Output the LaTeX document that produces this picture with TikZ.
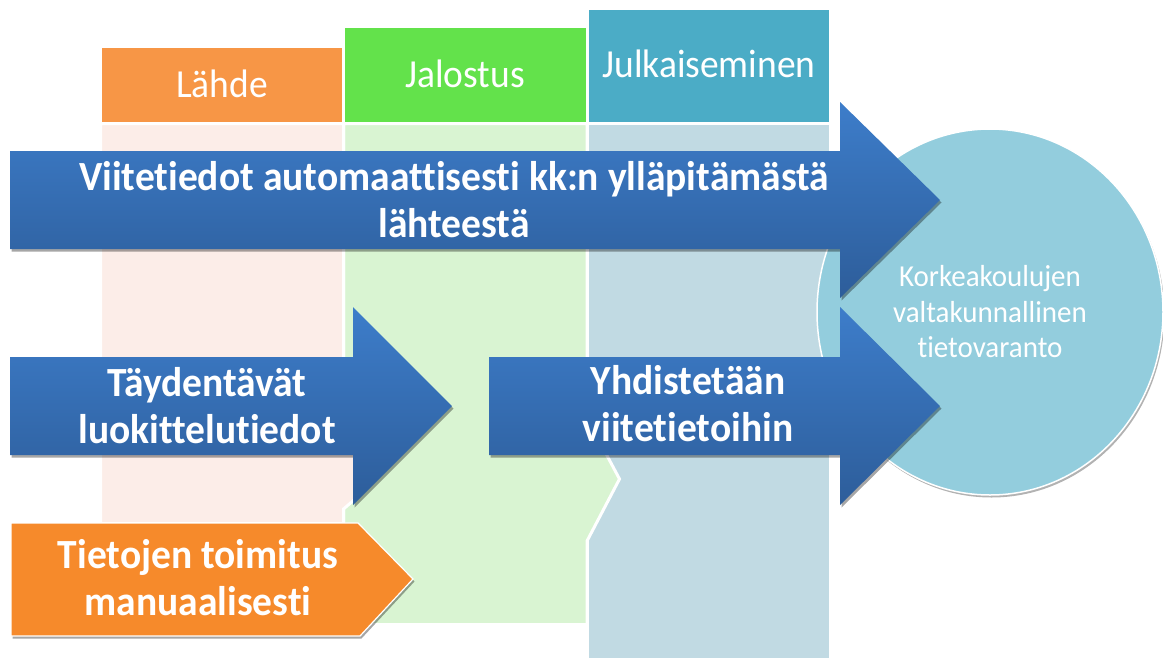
\documentclass[tikz,border=0pt]{standalone}
\usepackage{fontspec}
\setmainfont{Carlito}[Ligatures=NoCommon]
\usetikzlibrary{shadows}
\definecolor{hdrorange}{HTML}{F79646}
\definecolor{hdrgreen}{HTML}{63E24B}
\definecolor{hdrteal}{HTML}{4BACC6}
\definecolor{colpink}{HTML}{FCEDE8}
\definecolor{colgreen}{HTML}{D9F4D2}
\definecolor{colblue}{HTML}{C1DAE3}
\definecolor{circblue}{HTML}{93CDDD}
\definecolor{arrtop}{HTML}{3D7DCA}
\definecolor{arrbot}{HTML}{2D5D9A}
\definecolor{boxorange}{HTML}{F68A2B}
\tikzset{
  colbox/.style={draw=white, line width=3pt, line join=miter},
  hdrtext/.style={text=white, inner sep=0pt, yscale=1.06, transform shape, font=\fontsize{37.5}{45}\selectfont},
  arrowshape/.style={top color=arrtop, bottom color=arrbot, draw=none,
     drop shadow={shadow xshift=1.5pt, shadow yshift=-2.5pt, opacity=.35, fill=black}},
  arrtext/.style={text=white, inner sep=0pt, align=center, yscale=1.05, transform shape,
     font=\bfseries\fontsize{39.5}{44.8}\selectfont},
}
\begin{document}
\begin{tikzpicture}[x=1pt, y=-1pt]
\useasboundingbox (0,0) rectangle (1163,657);
% column bodies
\path[colbox, fill=colblue] (587,123.5) rectangle (830.5,672);
\path[colbox, fill=colgreen] (343.5,123.5) -- (587,123.5) -- (587,418) -- (619.5,479) -- (587,541) -- (587,624.5) -- (343.5,624.5) -- cycle;
\path[colbox, fill=colpink] (100.5,123.5) -- (343.5,123.5) -- (343.5,380) -- (380,440) -- (354,500) -- (343.5,509) -- (343.5,523.5) -- (100.5,523.5) -- cycle;
% headers
\path[colbox, fill=hdrorange] (100.5,46.5) rectangle (343.5,123.5);
\path[colbox, fill=hdrgreen] (343.5,26.5) rectangle (587,123.5);
\path[colbox, fill=hdrteal] (587,8.5) rectangle (830.5,123.5);
\node[hdrtext] (lahde) at (222,84) {Lähde};
\node[hdrtext] (jalostus) at (465,74) {Jalostus};
\node[hdrtext] (julk) at (709,64) {Julkaiseminen};
% circle
\path[fill=circblue, draw=white, line width=1.5pt,
  drop shadow={shadow xshift=1.5pt, shadow yshift=-2.5pt, opacity=.3, fill=black}]
  (990,312) ellipse [x radius=173, y radius=183];
\node[text=white, inner sep=0pt, align=center, yscale=1.05, transform shape,
  font=\fontsize{29}{33.8}\selectfont] (tv) at (990,312)
  {Korkeakoulujen\\valtakunnallinen\\tietovaranto};
% arrows
\path[arrowshape] (10,151) -- (840,151) -- (840,102) -- (940,200) -- (840,298) -- (840,249) -- (10,249) -- cycle;
\node[arrtext] (viite) at (454,200) {Viitetiedot automaattisesti kk:n ylläpitämästä\\lähteestä};
\path[arrowshape] (10,357) -- (353,357) -- (353,307) -- (452,406) -- (353,505) -- (353,455) -- (10,455) -- cycle;
\node[arrtext] (tayd) at (207,406) {Täydentävät\\luokittelutiedot};
\path[arrowshape] (489,357) -- (840,357) -- (840,307) -- (940,406) -- (840,505) -- (840,455) -- (489,455) -- cycle;
\node[arrtext] (yhd) at (688,404) {Yhdistetään\\viitetietoihin};
% orange pentagon
\path[fill=boxorange, draw=white, line width=1.2pt,
  drop shadow={shadow xshift=1.5pt, shadow yshift=-2.5pt, opacity=.35, fill=black}]
  (11,523) -- (358,523) -- (413,579) -- (360,636) -- (11,636) -- cycle;
\node[arrtext] (toim) at (198,578) {Tietojen toimitus\\manuaalisesti};
\end{tikzpicture}
\end{document}
